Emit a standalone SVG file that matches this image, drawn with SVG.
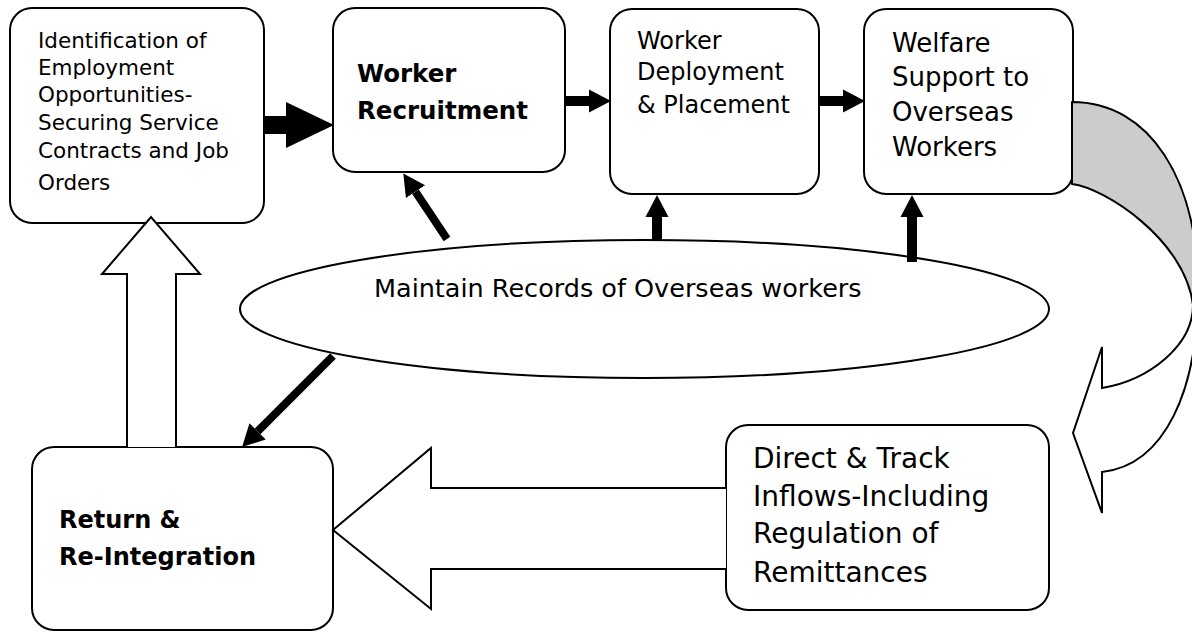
<svg xmlns="http://www.w3.org/2000/svg" width="1192" height="632" viewBox="0 0 1192 632">
  <style>
    .box { fill: #ffffff; stroke: #000000; stroke-width: 2; }
    .txt { font-family: "DejaVu Sans", Verdana, sans-serif; fill: #000000; }
    .bold { font-weight: bold; }
    .shaft { stroke: #000000; fill: none; stroke-linecap: butt; }
    .hollow { fill: #ffffff; stroke: #000000; stroke-width: 2; stroke-linejoin: miter; }
  </style>
  <defs>
    <marker id="head-lg" markerUnits="userSpaceOnUse" viewBox="0 -25 50 50" markerWidth="50" markerHeight="50" refX="0" refY="0" orient="auto">
      <path d="M0,-23 L48,0 L0,23 Z" fill="#000000"/>
    </marker>
    <marker id="head-sm" markerUnits="userSpaceOnUse" viewBox="0 -13 24 26" markerWidth="24" markerHeight="26" refX="0" refY="0" orient="auto">
      <path d="M0,-11.5 L22,0 L0,11.5 Z" fill="#000000"/>
    </marker>
  </defs>

  <rect width="1192" height="632" fill="#ffffff"/>

  <!-- process boxes -->
  <g id="node-identification">
    <rect class="box" x="10" y="8" width="254" height="215" rx="22" ry="22"/>
    <text class="txt" font-size="21.5" x="38">
      <tspan x="38" y="48">Identification of</tspan>
      <tspan x="38" y="75">Employment</tspan>
      <tspan x="38" y="102">Opportunities-</tspan>
      <tspan x="38" y="130">Securing Service</tspan>
      <tspan x="38" y="158">Contracts and Job</tspan>
      <tspan x="38" y="190">Orders</tspan>
    </text>
  </g>

  <g id="node-recruitment">
    <rect class="box" x="333" y="8" width="232" height="164" rx="22" ry="22"/>
    <text class="txt bold" font-size="24.5">
      <tspan x="357" y="82">Worker</tspan>
      <tspan x="357" y="119">Recruitment</tspan>
    </text>
  </g>

  <g id="node-deployment">
    <rect class="box" x="610" y="9" width="209" height="185" rx="22" ry="22"/>
    <text class="txt" font-size="24">
      <tspan x="637" y="49">Worker</tspan>
      <tspan x="637" y="80">Deployment</tspan>
      <tspan x="637" y="113">&amp; Placement</tspan>
    </text>
  </g>

  <g id="node-welfare">
    <rect class="box" x="864" y="9" width="209" height="185" rx="22" ry="22"/>
    <text class="txt" font-size="26">
      <tspan x="892" y="52">Welfare</tspan>
      <tspan x="892" y="86">Support to</tspan>
      <tspan x="892" y="121">Overseas</tspan>
      <tspan x="892" y="156">Workers</tspan>
    </text>
  </g>

  <g id="node-return">
    <rect class="box" x="32" y="447" width="301" height="183" rx="22" ry="22"/>
    <text class="txt bold" font-size="24">
      <tspan x="59" y="528">Return &amp;</tspan>
      <tspan x="59" y="565">Re-Integration</tspan>
    </text>
  </g>

  <g id="node-inflows">
    <rect class="box" x="726" y="425" width="323" height="185" rx="22" ry="22"/>
    <text class="txt" font-size="28">
      <tspan x="753" y="468">Direct &amp; Track</tspan>
      <tspan x="753" y="506">Inflows-Including</tspan>
      <tspan x="753" y="543">Regulation of</tspan>
      <tspan x="753" y="582">Remittances</tspan>
    </text>
  </g>

  <g id="node-records">
    <ellipse class="box" cx="644.5" cy="309" rx="404.5" ry="69"/>
    <text class="txt" font-size="25.5" x="374" y="297">Maintain Records of Overseas workers</text>
  </g>

  <!-- connectors -->
  <g id="connectors">
    <!-- main flow along the top row -->
    <line class="shaft" x1="264" y1="125" x2="286" y2="125" stroke-width="18" marker-end="url(#head-lg)"/>
    <line class="shaft" x1="565" y1="101" x2="589" y2="101" stroke-width="10" marker-end="url(#head-sm)"/>
    <line class="shaft" x1="819" y1="101" x2="843" y2="101" stroke-width="10" marker-end="url(#head-sm)"/>

    <!-- records feeding each stage -->
    <line class="shaft" x1="447" y1="239" x2="415.5" y2="191.7" stroke-width="8" marker-end="url(#head-sm)"/>
    <line class="shaft" x1="657" y1="241" x2="657" y2="217" stroke-width="10" marker-end="url(#head-sm)"/>
    <line class="shaft" x1="912" y1="262" x2="912" y2="217" stroke-width="10" marker-end="url(#head-sm)"/>
    <line class="shaft" x1="333" y1="356" x2="257.6" y2="431.4" stroke-width="8" marker-end="url(#head-sm)"/>

    <!-- block arrow: return back to identification -->
    <path class="hollow" d="M127,447 L127,274 L102,274 L151,217 L200,274 L176,274 L176,447"/>

    <!-- block arrow: inflows to return -->
    <path class="hollow" d="M726,488 L431,488 L431,448 L333,530 L431,609 L431,569 L726,569"/>

    <!-- curved arrow from welfare down to inflows: back face -->
    <path d="M1072,102 C1150,102 1198,180 1198,290 L1193,305 C1185,240 1105,188 1072,184 Z" fill="#cccccc" stroke="#000000" stroke-width="2" stroke-linejoin="round"/>
    <!-- curved arrow: front face with head -->
    <path class="hollow" d="M1198,290 C1198,390 1165,465 1102,472 L1102,513 L1073,433 L1102,347 L1102,388 C1150,380 1193,345 1193,305 Z"/>
  </g>
</svg>
